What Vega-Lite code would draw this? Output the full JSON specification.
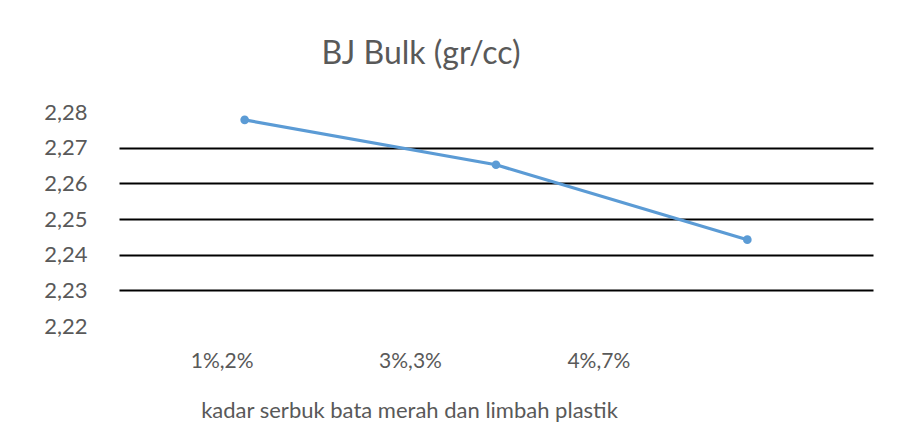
{
  "$schema": "https://vega.github.io/schema/vega-lite/v6.json",
  "autosize": {"type": "none"},
  "width": 754,
  "height": 214,
  "padding": {"left": 119, "top": 112, "right": 31, "bottom": 111},
  "background": "white",
  "config": {"view": {"stroke": null}, "font": "Lato"},
  "title": {
    "text": "BJ Bulk (gr/cc)",
    "fontSize": 32,
    "font": "Lato",
    "fontWeight": "normal",
    "color": "#595959",
    "anchor": "middle",
    "frame": "group",
    "dx": -75,
    "offset": 30
  },
  "data": {
    "values": [
      {"kadar": "1%,2%", "bj": 2.2778},
      {"kadar": "3%,3%", "bj": 2.2652},
      {"kadar": "4%,7%", "bj": 2.2442}
    ]
  },
  "mark": {"type": "line", "color": "#5b9bd5", "strokeWidth": 3.2, "point": {"filled": true, "size": 75, "color": "#5b9bd5"}},
  "encoding": {
    "x": {
      "field": "kadar",
      "type": "nominal",
      "sort": null,
      "scale": {"type": "point", "padding": 0.5},
      "axis": {
        "title": "kadar serbuk bata merah dan limbah plastik",
        "titleFont": "Lato",
        "titleFontSize": 22,
        "titleFontWeight": "normal",
        "titleColor": "#595959",
        "titleX": 290,
        "titleY": 84,
        "titleAlign": "center",
        "titleBaseline": "middle",
        "labelFont": "Lato",
        "labelFontSize": 21,
        "labelColor": "#595959",
        "labelAngle": 0,
        "labelPadding": 24,
        "labelOffset": {
          "condition": [
            {"test": "datum.value === '1%,2%'", "value": -23},
            {"test": "datum.value === '3%,3%'", "value": -86}
          ],
          "value": -149
        },
        "domain": false,
        "ticks": false,
        "grid": false
      }
    },
    "y": {
      "field": "bj",
      "type": "quantitative",
      "scale": {"domain": [2.22, 2.28], "nice": false, "zero": false},
      "axis": {
        "title": null,
        "values": [2.22, 2.23, 2.24, 2.25, 2.26, 2.27, 2.28],
        "labelExpr": "replace(format(datum.value, '.2f'), '.', ',')",
        "labelFont": "Lato",
        "labelFontSize": 22,
        "labelColor": "#595959",
        "labelPadding": 32,
        "domain": false,
        "ticks": false,
        "grid": true,
        "gridColor": {
          "condition": {"test": "datum.value > 2.225 && datum.value < 2.275", "value": "#000000"},
          "value": "transparent"
        },
        "gridWidth": 2,
        "gridOpacity": 1
      }
    }
  }
}
